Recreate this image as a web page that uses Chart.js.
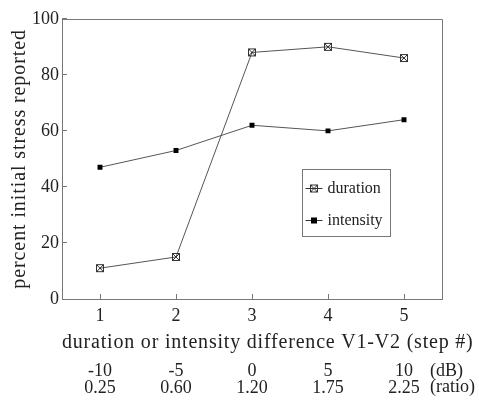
<!DOCTYPE html>
<html>
<head>
<meta charset="utf-8">
<script src="https://cdn.jsdelivr.net/npm/chart.js@4"></script>
<style>
  body { margin: 0; background: #fff; }
  #wrap { width: 479px; height: 412px; }
</style>
</head>
<body>
<div id="wrap"><canvas id="myChart"></canvas></div>
<script>
const steps = [1, 2, 3, 4, 5];
const durationValues = [11, 15, 88, 90, 86];
const intensityValues = [47, 53, 62, 60, 64];
const dbLabels = ["-10", "-5", "0", "5", "10"];
const ratioLabels = ["0.25", "0.60", "1.20", "1.75", "2.25"];
const yTicks = [0, 20, 40, 60, 80, 100];
const xTitle = "duration or intensity difference V1-V2 (step #)";
const yTitle = "percent initial stress reported";

const FONT = "'Liberation Serif', 'Times New Roman', serif";
const INK = "#222";
const AXIS = "#777";
const LINE = "#555";

// boxed X marker for "duration"
const boxX = document.createElement("canvas");
boxX.width = 10;
boxX.height = 10;
(function () {
    const c = boxX.getContext("2d");
    c.strokeStyle = "#333";
    c.lineWidth = 1;
    c.strokeRect(1.5, 1.5, 7, 7);
    c.beginPath();
    c.moveTo(2, 2); c.lineTo(8, 8);
    c.moveTo(8, 2); c.lineTo(2, 8);
    c.stroke();
})();

const ctx = document.getElementById("myChart").getContext("2d");

const data = {
    datasets: [
        {
            label: "duration",
            data: steps.map((s, i) => ({ x: s, y: durationValues[i] })),
            borderColor: LINE,
            borderWidth: 1,
            pointStyle: boxX,
            pointRadius: 5,
            tension: 0,
        },
        {
            label: "intensity",
            data: steps.map((s, i) => ({ x: s, y: intensityValues[i] })),
            borderColor: LINE,
            borderWidth: 1,
            backgroundColor: "#000",
            pointStyle: "rect",
            pointRadius: 3.5,
            pointBorderWidth: 0,
            tension: 0,
        }
    ]
};

// frame, axis titles (letter-spaced), legend box and unit captions
const extras = {
    id: "extras",
    beforeDatasetsDraw(chart) {
        const { ctx, chartArea: a } = chart;
        ctx.save();
        ctx.strokeStyle = AXIS;
        ctx.lineWidth = 1;
        ctx.beginPath();
        ctx.moveTo(Math.round(a.left) + 0.5, Math.round(a.top) + 0.5);
        ctx.lineTo(Math.round(a.right) + 0.5, Math.round(a.top) + 0.5);
        ctx.lineTo(Math.round(a.right) + 0.5, Math.round(a.bottom) + 0.5);
        ctx.stroke();
        ctx.restore();
    },
    afterDraw(chart) {
        const { ctx, chartArea: a } = chart;
        ctx.save();
        ctx.fillStyle = INK;
        ctx.font = "20px " + FONT;
        ctx.letterSpacing = "0.8px";
        ctx.textBaseline = "middle";
        ctx.textAlign = "left";
        ctx.fillText(xTitle, a.left, 343);
        ctx.save();
        ctx.letterSpacing = "0.9px";
        ctx.translate(20, (a.top + a.bottom) / 2);
        ctx.rotate(-Math.PI / 2);
        ctx.textAlign = "center";
        ctx.fillText(yTitle, 0, 0);
        ctx.restore();
        ctx.letterSpacing = "0px";

        // legend
        const bx = Math.round(a.right - 140) + 0.5, by = Math.round(a.top + 150) + 0.5;
        const bw = 88, bh = 67;
        ctx.strokeStyle = AXIS;
        ctx.lineWidth = 1;
        ctx.strokeRect(bx, by, bw, bh);
        ctx.font = "16px " + FONT;
        chart.data.datasets.forEach((ds, i) => {
            const y = by + 19 + i * 32;
            ctx.strokeStyle = "#333";
            ctx.beginPath();
            ctx.moveTo(bx + 3, y);
            ctx.lineTo(bx + 20, y);
            ctx.stroke();
            if (ds.pointStyle === "rect") {
                ctx.fillStyle = "#000";
                ctx.fillRect(bx + 8.5, y - 3, 6, 6);
            } else {
                Chart.helpers.drawPoint(ctx, {
                    pointStyle: ds.pointStyle,
                    radius: ds.pointRadius,
                    rotation: 0,
                    borderWidth: 0
                }, bx + 11.5, y);
            }
            ctx.fillStyle = INK;
            ctx.fillText(ds.label, bx + 25, y);
        });

        // unit captions right of the last step column
        const x2 = chart.scales.x2;
        const ux = x2.getPixelForValue(steps[steps.length - 1]) + 26;
        ctx.font = "18px " + FONT;
        ctx.fillText("(dB)", ux, 371);
        ctx.fillText("(ratio)", ux, 387.5);
        ctx.restore();
    }
};

const config = {
    type: "line",
    data: data,
    options: {
        responsive: true,
        maintainAspectRatio: false,
        animation: false,
        layout: { padding: { top: 17, right: 37, left: 0, bottom: 0 } },
        plugins: {
            legend: { display: false },
            tooltip: { enabled: false },
        },
        scales: {
            x: {
                type: "linear",
                position: "bottom",
                min: 0.5,
                max: 5.5,
                afterBuildTicks: (s) => { s.ticks = steps.map(v => ({ value: v })); },
                afterFit: (s) => { s.height = 58; },
                border: { color: AXIS, width: 1 },
                grid: { drawOnChartArea: false, color: AXIS, tickLength: -5 },
                ticks: {
                    color: INK,
                    font: { family: FONT, size: 18 },
                    padding: 11,
                    maxRotation: 0,
                    callback: (v) => String(v),
                },
            },
            x2: {
                type: "linear",
                position: "bottom",
                weight: 1,
                min: 0.5,
                max: 5.5,
                afterBuildTicks: (s) => { s.ticks = steps.map(v => ({ value: v })); },
                afterFit: (s) => { s.height = 55; },
                border: { display: false },
                grid: { display: false, drawTicks: false },
                ticks: {
                    color: INK,
                    font: { family: FONT, size: 18, lineHeight: 0.92 },
                    padding: 6,
                    maxRotation: 0,
                    callback: (v) => {
                        const i = steps.indexOf(v);
                        return [dbLabels[i], ratioLabels[i]];
                    },
                },
            },
            y: {
                min: 0,
                max: 100,
                afterBuildTicks: (s) => { s.ticks = yTicks.map(v => ({ value: v })); },
                afterFit: (s) => { s.width = 62; },
                border: { color: AXIS, width: 1 },
                grid: { drawOnChartArea: false, color: AXIS, tickLength: -5 },
                ticks: {
                    color: INK,
                    font: { family: FONT, size: 18 },
                    padding: 8,
                },
            },
        },
    },
    plugins: [extras],
};

const myChart = new Chart(ctx, config);
</script>
</body>
</html>
